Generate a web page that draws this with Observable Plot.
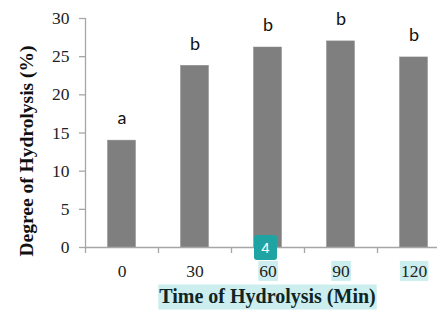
<!DOCTYPE html>
<html><head><meta charset="utf-8">
<script src="https://cdn.jsdelivr.net/npm/d3@7"></script>
<script src="https://cdn.jsdelivr.net/npm/@observablehq/plot@0.6"></script>
<style>
html,body{margin:0;padding:0;background:#fff;overflow:hidden}
#chart{position:relative;width:437px;height:312px}
.badge{position:absolute;left:254px;top:235px;width:23px;height:25px;background:#1fa3a3;border-radius:3px;color:#fff;font:15px "Liberation Sans",sans-serif;text-align:center;line-height:25px}
</style></head><body><div id="chart"></div>
<script>
const times = [0, 30, 60, 90, 120];
const hydrolysis = [14.0, 23.8, 26.2, 27.0, 24.9];
const letters = ["a", "b", "b", "b", "b"];
const yTicks = [0, 5, 10, 15, 20, 25, 30];
const categoryBounds = [-15, 15, 45, 75, 105];
const highlighted = ["60", "90", "120"];
const yTitle = "Degree of Hydrolysis (%)";
const xTitle = "Time of Hydrolysis (Min)";

const data = times.map((t, i) => ({time: t, dh: hydrolysis[i], letter: letters[i]}));
const half = 5.75;
const axisColor = "#a6a6a6";
const serif = "'Liberation Serif','Times New Roman',serif";

const plot = Plot.plot({
  width: 437,
  height: 312,
  marginLeft: 85,
  marginRight: 0,
  marginTop: 18,
  marginBottom: 65,
  style: {fontFamily: serif, background: "transparent", overflow: "visible"},
  x: {domain: [-15, 135], range: [85, 450]},
  y: {domain: [0, 30]},
  marks: [
    Plot.rectY(data, {x1: d => d.time - half, x2: d => d.time + half, y: "dh", fill: "#7f7f7f", stroke: "#8c8c8c", strokeWidth: 0.5}),
    Plot.ruleY([0], {stroke: axisColor, strokeWidth: 1.3}),
    Plot.ruleX([-15], {stroke: axisColor, strokeWidth: 1.3}),
    Plot.axisY({ticks: yTicks, tickSize: 6, tickPadding: 10, stroke: axisColor, fontSize: 17.5, fill: "#222", label: null, strokeWidth: 1.3}),
    Plot.axisX({ticks: categoryBounds, tickSize: 6, stroke: axisColor, text: null, label: null, strokeWidth: 1.3}),
    Plot.axisX({ticks: times, tickSize: 0, tickPadding: 17, fontSize: 17.5, fill: "#222", label: null}),
    Plot.text(data, {x: "time", y: "dh", text: "letter", dy: -22, fontSize: 18, fontFamily: "Lato, 'Liberation Sans', sans-serif", fill: "#111"}),
    Plot.text([yTitle], {frameAnchor: "left", textAnchor: "middle", rotate: -90, dx: -59, dy: 18, fontSize: 19.5, fontWeight: "bold", fill: "#111"}),
    Plot.text([xTitle], {frameAnchor: "bottom", dx: 6, dy: 55, fontSize: 20, fontWeight: "bold", fill: "#0f2525"})
  ]
});
const chart = document.getElementById("chart");
chart.appendChild(plot);

// highlight overlay (as in the reference screenshot)
const svgRect = plot.getBoundingClientRect();
const bg = document.createElementNS("http://www.w3.org/2000/svg", "g");
plot.insertBefore(bg, plot.firstChild.nextSibling);
function highlight(el, padX, padTop, padBottom) {
  const r = el.getBoundingClientRect();
  const rect = document.createElementNS("http://www.w3.org/2000/svg", "rect");
  rect.setAttribute("x", r.left - svgRect.left - padX);
  rect.setAttribute("y", r.top - svgRect.top - padTop);
  rect.setAttribute("width", r.width + 2 * padX);
  rect.setAttribute("height", r.height + padTop + padBottom);
  rect.setAttribute("fill", "#cdeeee");
  bg.appendChild(rect);
}
const texts = Array.from(plot.querySelectorAll("text"));
const tickTexts = texts.filter(t => highlighted.includes(t.textContent.trim()) && +t.getBoundingClientRect().top > svgRect.top + 250);
tickTexts.forEach(t => highlight(t, 1, 0, 0));
texts.filter(t => t.textContent.trim() === xTitle).forEach(t => highlight(t, 1, 0, 2));

const badge = document.createElement("div");
badge.className = "badge";
badge.textContent = "4";
chart.appendChild(badge);
</script></body></html>
